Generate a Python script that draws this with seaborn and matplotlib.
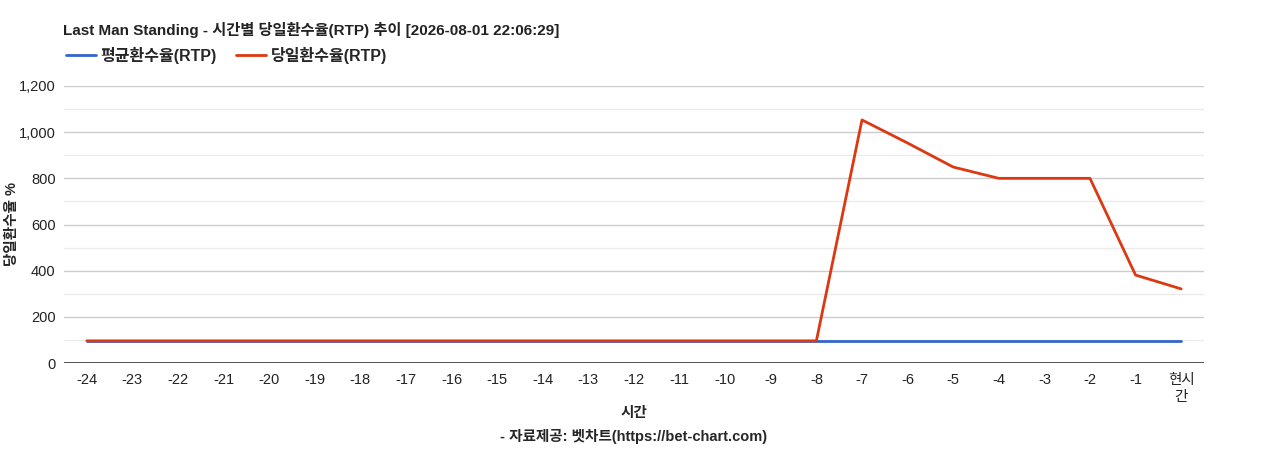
import matplotlib
matplotlib.use('Agg')
import matplotlib.pyplot as plt
import seaborn as sns
import pandas as pd
from matplotlib.lines import Line2D

# Datos
horas = ['-24', '-23', '-22', '-21', '-20', '-19', '-18', '-17', '-16', '-15', '-14', '-13',
         '-12', '-11', '-10', '-9', '-8', '-7', '-6', '-5', '-4', '-3', '-2', '-1', '현시\n간']
rtp_promedio = [96] * 25
rtp_diario = [96, 96, 96, 96, 96, 96, 96, 96, 96, 96, 96, 96,
              96, 96, 96, 96, 96, 1053, 953, 849, 800, 800, 800, 381, 321]

df = pd.DataFrame({
    'x': list(range(len(horas))) * 2,
    'rtp': rtp_promedio + rtp_diario,
    'serie': ['평균환수율(RTP)'] * len(horas) + ['당일환수율(RTP)'] * len(horas),
})

sns.set_style('white')
plt.rcParams['font.family'] = ['Liberation Sans', 'Noto Sans CJK KR', 'DejaVu Sans']

fig = plt.figure(figsize=(12.68, 4.5), dpi=100)
ax = fig.add_axes([0.0505, 0.1933, 0.899, 0.6156])

colores = {'평균환수율(RTP)': '#3366cc', '당일환수율(RTP)': '#dc3912'}
sns.lineplot(data=df, x='x', y='rtp', hue='serie', palette=colores, linewidth=2,
             ax=ax, legend=False, zorder=3)

# Rejilla
for v in range(100, 1200, 200):
    ax.axhline(v, color='#ebebeb', linewidth=1, zorder=1)
for v in range(200, 1201, 200):
    ax.axhline(v, color='#cccccc', linewidth=1, zorder=1)
ax.axhline(0, color='#333333', linewidth=1.2, zorder=4)

ax.set_xlim(-0.5, len(horas) - 0.5)
ax.set_ylim(0, 1200)
ax.set_yticks(range(0, 1201, 200))
ax.set_yticklabels([f'{v:,}' for v in range(0, 1201, 200)], fontsize=10.5, color='#222222')
ax.set_xticks(range(len(horas)))
ax.set_xticklabels(horas, fontsize=10.5, color='#222222', linespacing=1.3)
ax.tick_params(axis='y', length=0, pad=6)
ax.tick_params(axis='x', length=0, pad=7)
for s in ax.spines.values():
    s.set_visible(False)
ax.set_xlabel('')
ax.set_ylabel('')

# Textos de ejes
fig.text(0.5, 1 - 413 / 450, '시간', fontsize=10.5, fontweight='bold', ha='center', va='center')
fig.text(0.5, 1 - 437 / 450, '- 자료제공: 벳차트(https://bet-chart.com)', fontsize=10.5,
         fontweight='bold', ha='center', va='center')
fig.text(12 / 1268, 1 - 224 / 450, '당일환수율 %', fontsize=10.5, fontweight='bold',
         rotation=90, ha='center', va='center')

fig.text(0.0497, 1 - 30 / 450, 'Last Man Standing - 시간별 당일환수율(RTP) 추이 [2026-08-01 22:06:29]',
         fontsize=11, fontweight='bold', color='#222222', va='center')

# Leyenda
handles = [Line2D([], [], color=colores[k], linewidth=2) for k in colores]
fig.legend(handles, list(colores.keys()), loc='center left', bbox_to_anchor=(0.041, 1 - 55 / 450),
           ncol=2, frameon=False, prop={'size': 11.5, 'weight': 'bold'},
           handlelength=1.85, columnspacing=1.2, handletextpad=0.3)

fig.savefig('out.png', dpi=100)
